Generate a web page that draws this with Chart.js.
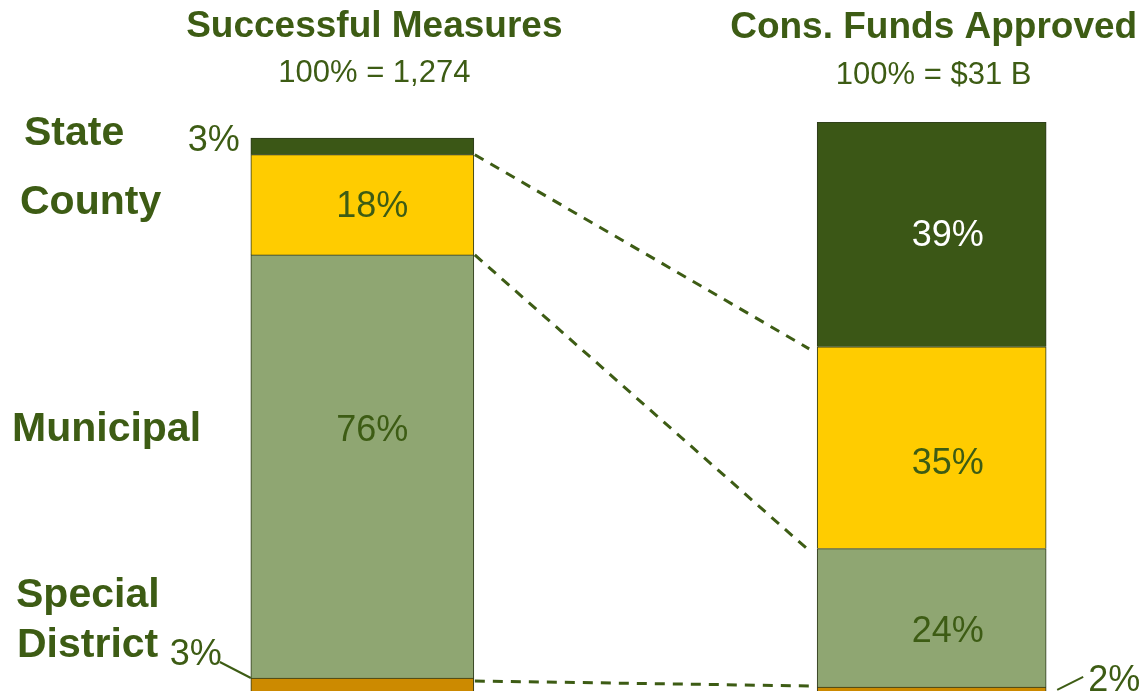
<!DOCTYPE html>
<html>
<head>
<meta charset="utf-8">
<script src="https://cdn.jsdelivr.net/npm/chart.js@4.4.0/dist/chart.umd.min.js"></script>
<style>
  html, body { margin: 0; padding: 0; background: #fff; overflow: hidden; }
  #wrap { width: 1140px; height: 691px; position: relative; }
</style>
</head>
<body>
<div id="wrap"><canvas id="myChart"></canvas></div>
<script>
// columns of the chart (middle one is an empty gap)
const columns = ['Successful Measures', '', 'Cons. Funds Approved'];
const columnTotals = ['100% = 1,274', '', '100% = $31 B'];
const levels = ['State', 'County', 'Municipal', 'Special District'];
const measuresShare = [3, 18, 76, 3];
const fundsShare = [39, 35, 24, 2];
const levelColors = ['#3b5716', '#ffcc00', '#8fa672', '#cc8a00'];

const GREEN = '#3d5c14';
const FONT = 'Arial, "Liberation Sans", Helvetica, sans-serif';

// bottom level first so it sits at the base of the stack
const datasets = [];
for (let i = levels.length - 1; i >= 0; i--) {
    datasets.push({
        label: levels[i],
        data: [measuresShare[i], null, null],
        yAxisID: 'yLeft',
        backgroundColor: levelColors[i],
        borderColor: '#2e3a1c',
        borderWidth: 1,
        barThickness: 223,
        stack: 'bars',
        side: 0,
        level: i
    });
    datasets.push({
        label: levels[i],
        data: [null, null, fundsShare[i]],
        yAxisID: 'yRight',
        backgroundColor: levelColors[i],
        borderColor: '#2e3a1c',
        borderWidth: 1,
        barThickness: 229,
        stack: 'bars',
        side: 2,
        level: i
    });
}

function pct(v) { return v + '%'; }

const annotate = {
    id: 'annotate',
    afterDatasetsDraw(chart) {
        const ctx = chart.ctx;
        const xs = chart.scales.x;
        const leftX = xs.getPixelForValue(0);
        const rightX = xs.getPixelForValue(2);

        ctx.save();
        ctx.fillStyle = GREEN;
        ctx.textAlign = 'center';
        ctx.textBaseline = 'alphabetic';

        // column headers
        ctx.font = 'bold 37px ' + FONT;
        ctx.fillText(columns[0], leftX + 12, 37);
        ctx.fillText(columns[2], rightX + 2, 38);
        ctx.font = '31px ' + FONT;
        ctx.fillText(columnTotals[0], leftX + 12, 82);
        ctx.fillText(columnTotals[2], rightX + 2, 84);

        // level names on the left
        ctx.font = 'bold 41px ' + FONT;
        ctx.textAlign = 'left';
        ctx.fillText(levels[0], 24, 145);
        ctx.fillText(levels[1], 20, 214);
        ctx.fillText(levels[2], 12, 441);
        const sd = levels[3].split(' ');
        ctx.fillText(sd[0], 16, 607);
        ctx.fillText(sd[1], 17, 657);

        // gather bar segments
        const seg = { 0: {}, 2: {} };
        chart.data.datasets.forEach((ds, di) => {
            const el = chart.getDatasetMeta(di).data[ds.side];
            seg[ds.side][ds.level] = { el, value: ds.data[ds.side] };
        });

        const nudge = { '0-2': -37, '2-1': 14, '2-2': 12 };
        ctx.font = '36px ' + FONT;
        ctx.textAlign = 'center';
        ctx.textBaseline = 'middle';
        [0, 2].forEach(side => {
            for (let l = 0; l < levels.length; l++) {
                const s = seg[side][l];
                if (s.value < 5) continue;
                const el = s.el;
                const cy = (el.y + el.base) / 2 + (nudge[side + '-' + l] || 0);
                const dx = side === 0 ? 10 : 16;
                ctx.fillStyle = l === 0 ? '#ffffff' : GREEN;
                ctx.fillText(pct(s.value), el.x + dx, cy + 2);
            }
        });

        // small outside labels
        ctx.fillStyle = GREEN;
        ctx.strokeStyle = GREEN;
        ctx.lineWidth = 2;
        ctx.textBaseline = 'alphabetic';
        let el = seg[0][0].el;
        let edge = el.x - el.width / 2;
        ctx.textAlign = 'right';
        ctx.fillText(pct(seg[0][0].value), edge - 11, el.y + 13);

        el = seg[0][3].el;
        edge = el.x - el.width / 2;
        ctx.fillText(pct(seg[0][3].value), edge - 29, el.y - 13);
        ctx.beginPath();
        ctx.moveTo(edge - 31, el.y - 16);
        ctx.lineTo(edge, el.y);
        ctx.stroke();

        el = seg[2][3].el;
        edge = el.x + el.width / 2;
        ctx.textAlign = 'left';
        ctx.fillText(pct(seg[2][3].value), edge + 42, el.y + 4);
        ctx.beginPath();
        ctx.moveTo(edge + 11, el.y + 3);
        ctx.lineTo(edge + 37, el.y - 10);
        ctx.stroke();

        // dashed connectors between matching boundaries
        ctx.setLineDash([10, 8]);
        ctx.lineWidth = 3;
        for (let l = 1; l < levels.length; l++) {
            const a = seg[0][l].el, b = seg[2][l].el;
            ctx.beginPath();
            ctx.moveTo(a.x + a.width / 2 + 1, a.y + (l === 3 ? 3 : 0));
            ctx.lineTo(b.x - b.width / 2 - 8, b.y + (l === 3 ? -1 : 2));
            ctx.stroke();
        }
        ctx.restore();
    }
};

const ctx = document.getElementById('myChart').getContext('2d');
const chart = new Chart(ctx, {
    type: 'bar',
    data: { labels: columns, datasets: datasets },
    options: {
        responsive: true,
        maintainAspectRatio: false,
        animation: false,
        layout: { padding: { top: 122, bottom: 0, left: 220, right: 66 } },
        plugins: {
            legend: { display: false },
            tooltip: { enabled: false },
            title: { display: false }
        },
        scales: {
            x: { type: 'category', display: false, stacked: true, offset: true },
            yLeft: { type: 'linear', display: false, stacked: true, min: 0.665, max: 102.874 },
            yRight: { type: 'linear', display: false, stacked: true, min: 1.3, max: 100 }
        }
    },
    plugins: [annotate]
});
</script>
</body>
</html>
